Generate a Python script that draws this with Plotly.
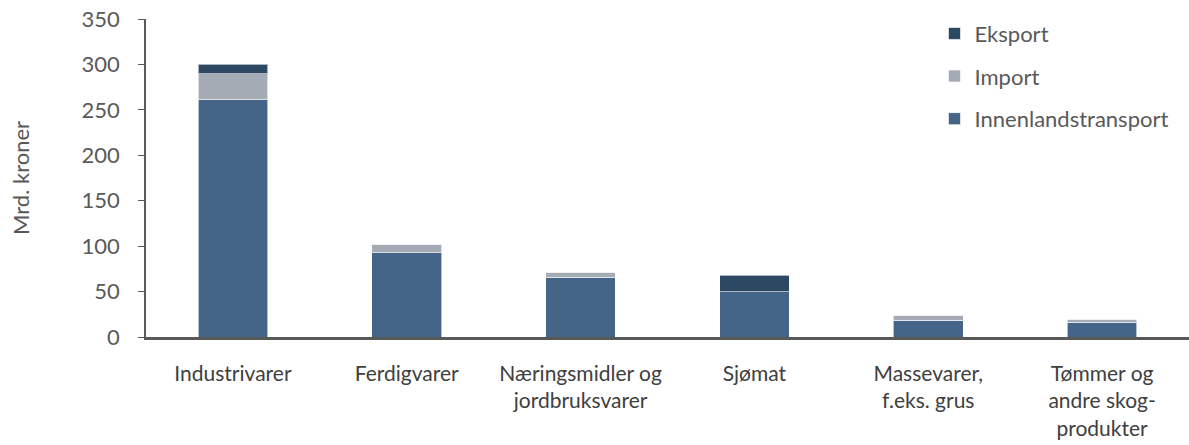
import plotly.graph_objects as go

categories = ["Industrivarer", "Ferdigvarer", "Næringsmidler og<br>jordbruksvarer", "Sjømat",
              "Massevarer,<br>f.eks. grus", "Tømmer og<br>andre skog-<br>produkter"]
innenland = [261, 93, 66, 50, 18.5, 16.5]
import_ = [29, 9, 5.5, 0, 5.5, 3]
eksport = [10, 0, 0, 18, 0, 0]

col_inn = "#446488"
col_imp = "#A5ABB5"
col_eks = "#2D4863"

fig = go.Figure()
for name, vals, col, rank in [("Innenlandstransport", innenland, col_inn, 3),
                              ("Import", import_, col_imp, 2),
                              ("Eksport", eksport, col_eks, 1)]:
    fig.add_trace(go.Bar(x=categories, y=vals, name=name, legendgroup=name, legendrank=rank,
                         marker=dict(color=col, line=dict(color="rgba(255,255,255,0.6)", width=1)),
                         width=0.4))

font = "Lato, 'Open Sans', sans-serif"
L = 146
PW = 1189 - L
fig.update_layout(
    barmode="stack",
    width=1189, height=445,
    margin=dict(l=L, r=0, t=19, b=108),
    paper_bgcolor="white", plot_bgcolor="white",
    font=dict(family=font, color="#595959", size=22),
    legend=dict(x=0.756, y=1.02, xanchor="left", yanchor="top",
                traceorder="grouped", tracegroupgap=11,
                font=dict(size=22, color="#595959"), itemwidth=30),
    showlegend=True,
    annotations=[dict(text="Mrd. kroner", x=(20 - L) / PW, xref="paper", xanchor="center",
                      y=0.5, yref="paper", yanchor="middle",
                      showarrow=False, textangle=-90, font=dict(size=22, color="#595959"))],
)
fig.update_yaxes(range=[0, 350], dtick=50, showgrid=False, zeroline=False, automargin=False,
                 showline=True, linecolor="#595959", linewidth=1.5,
                 ticks="outside", ticklen=6, tickcolor="#595959", ticklabelstandoff=14,
                 tickfont=dict(size=22, color="#595959"))
fig.update_xaxes(showgrid=False, showline=True, linecolor="#595959", linewidth=2.5, automargin=False,
                 ticks="outside", ticklen=16, tickcolor="rgba(0,0,0,0)",
                 tickfont=dict(size=21, color="#404040"))

fig.write_html("out.html", config={"displayModeBar": False},
               post_script="document.body.style.margin='0';document.body.style.overflow='hidden';")
